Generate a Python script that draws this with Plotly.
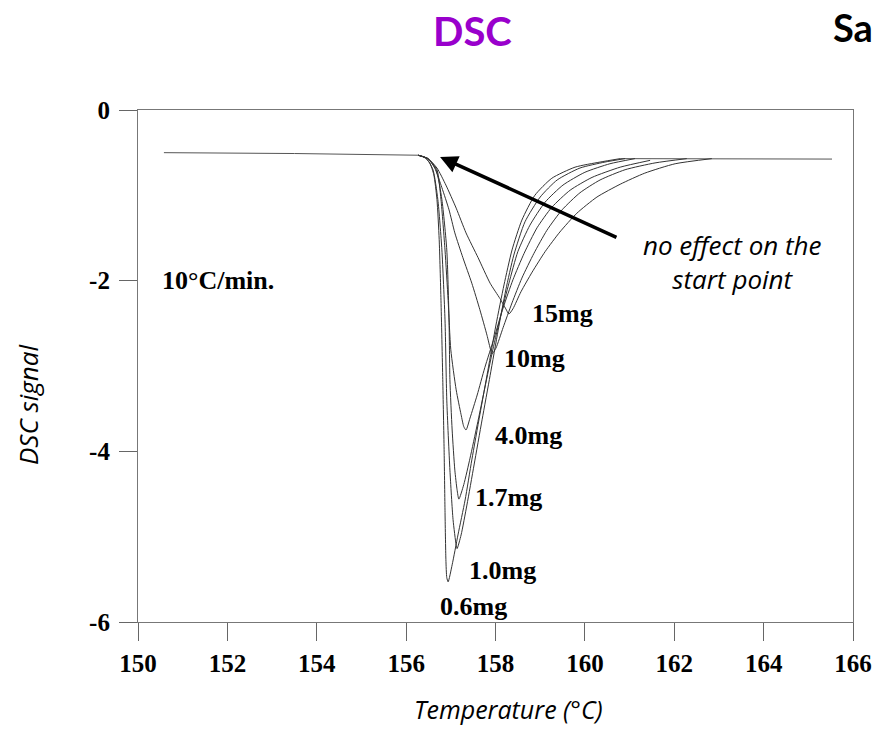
import plotly.graph_objects as go

# ---------------- data (temperature in °C, DSC signal) ----------------
base_left_T = [150.58, 153.5, 156.27]
base_left_y = [-0.50, -0.51, -0.53]
base_right_T = [160.79, 163.0, 165.53]
base_right_y = [-0.57, -0.57, -0.575]

T_06 = [156.27, 156.42, 156.53, 156.62, 156.69, 156.74, 156.78, 156.82, 156.85, 156.87, 156.89, 156.91, 156.94,
        157.03, 157.16, 157.32, 157.47, 157.65, 157.83, 158.01, 158.19, 158.37, 158.59, 158.88, 159.26, 159.78, 160.34, 160.79]
y_06 = [-0.53, -0.56, -0.62, -0.76, -1.05, -1.52, -2.23, -3.16, -3.98, -4.69, -5.27, -5.48, -5.53,
        -5.33, -4.98, -4.57, -4.10, -3.57, -3.05, -2.52, -2.05, -1.64, -1.29, -1.00, -0.80, -0.67, -0.61, -0.57]

T_10 = [156.27, 156.44, 156.60, 156.71, 156.80, 156.87, 156.91, 156.98, 157.05, 157.12, 157.14,
        157.23, 157.36, 157.52, 157.70, 157.88, 158.06, 158.23, 158.41, 158.66, 159.00, 159.38, 159.89, 160.45, 160.90]
y_10 = [-0.53, -0.56, -0.70, -1.05, -1.64, -2.46, -3.40, -4.22, -4.80, -5.10, -5.14,
        -4.98, -4.63, -4.16, -3.63, -3.11, -2.58, -2.11, -1.70, -1.31, -1.02, -0.82, -0.68, -0.61, -0.57]

T_17 = [156.27, 156.49, 156.67, 156.80, 156.91, 156.96, 156.98, 157.03, 157.09, 157.14, 157.18,
        157.29, 157.43, 157.59, 157.76, 157.94, 158.12, 158.30, 158.50, 158.77, 159.11, 159.51, 160.00, 160.56, 161.12]
y_17 = [-0.53, -0.57, -0.70, -1.05, -1.64, -2.46, -3.16, -3.75, -4.22, -4.45, -4.56,
        -4.39, -4.08, -3.69, -3.26, -2.81, -2.40, -2.03, -1.66, -1.35, -1.08, -0.88, -0.73, -0.63, -0.57]

T_40 = [156.27, 156.49, 156.69, 156.78, 156.87, 156.94, 157.00, 157.12, 157.23, 157.29, 157.34,
        157.43, 157.59, 157.76, 157.97, 158.17, 158.39, 158.64, 158.93, 159.26, 159.67, 160.16, 160.79, 161.46]
y_40 = [-0.53, -0.57, -0.70, -1.05, -1.64, -2.23, -2.81, -3.28, -3.57, -3.71, -3.75,
        -3.61, -3.34, -3.02, -2.67, -2.32, -1.99, -1.68, -1.38, -1.14, -0.94, -0.79, -0.67, -0.59]

T_100 = [156.27, 156.49, 156.64, 156.80, 156.96, 157.09, 157.27, 157.47, 157.65, 157.81, 157.88, 157.92,
         158.01, 158.17, 158.37, 158.59, 158.86, 159.15, 159.49, 159.89, 160.34, 160.90, 161.57, 162.28]
y_100 = [-0.53, -0.57, -0.68, -0.91, -1.17, -1.44, -1.73, -2.03, -2.34, -2.64, -2.79, -2.86,
         -2.79, -2.55, -2.26, -1.97, -1.68, -1.41, -1.17, -0.97, -0.82, -0.70, -0.62, -0.57]

T_150 = [156.27, 156.49, 156.69, 156.89, 157.12, 157.34, 157.61, 157.88, 158.10, 158.23, 158.30,
         158.39, 158.57, 158.82, 159.11, 159.44, 159.82, 160.27, 160.79, 161.34, 162.02, 162.84]
y_150 = [-0.53, -0.57, -0.68, -0.88, -1.15, -1.44, -1.73, -2.03, -2.21, -2.33, -2.39,
         -2.33, -2.13, -1.90, -1.66, -1.43, -1.21, -1.02, -0.87, -0.74, -0.63, -0.57]

series_names = ["0.6mg", "1.0mg", "1.7mg", "4.0mg", "10mg", "15mg"]
series_T = [T_06, T_10, T_17, T_40, T_100, T_150]
series_y = [y_06, y_10, y_17, y_40, y_100, y_150]
# label positions (T, signal)
label_T = [157.50, 158.15, 158.28, 158.73, 158.88, 159.51]
label_y = [-5.82, -5.40, -4.54, -3.81, -2.91, -2.38]

x_tickvals = [150, 152, 154, 156, 158, 160, 162, 164, 166]
y_tickvals = [0, -2, -4, -6]
y_ticktext = ["0", "-2", "-4", "-6"]

# ---------------- figure ----------------
SERIF = "Liberation Serif"
SANS = "Open Sans"
line_col = "#333333"

fig = go.Figure()
fig.add_trace(go.Scatter(x=base_left_T, y=base_left_y, mode="lines",
                         line=dict(color="#555555", width=1), hoverinfo="skip"))
fig.add_trace(go.Scatter(x=base_right_T, y=base_right_y, mode="lines",
                         line=dict(color="#555555", width=1), hoverinfo="skip"))
for name, T, y in zip(series_names, series_T, series_y):
    fig.add_trace(go.Scatter(x=T, y=y, mode="lines", name=name,
                             line=dict(color=line_col, width=1, shape="spline", smoothing=0.6)))

annotations = []
for name, lt, ly in zip(series_names, label_T, label_y):
    annotations.append(dict(x=lt, y=ly, xref="x", yref="y", text=name, showarrow=False,
                            font=dict(family=SERIF, size=26, color="black", weight="bold"),
                            xanchor="center", yanchor="middle"))
annotations.append(dict(x=151.79, y=-2.0, xref="x", yref="y", text="10°C/min.", showarrow=False,
                        font=dict(family=SERIF, size=26, color="black", weight="bold"),
                        xanchor="center", yanchor="middle"))
# arrow
annotations.append(dict(x=156.76, y=-0.55, ax=160.74, ay=-1.50, xref="x", yref="y", axref="x", ayref="y",
                        text="", showarrow=True, arrowhead=2, arrowsize=1.0, arrowwidth=3.5,
                        arrowcolor="black"))
annotations.append(dict(x=0.831, y=0.703, xref="paper", yref="paper",
                        text="<i>no effect on the</i><br><i>start point</i>", showarrow=False,
                        font=dict(family=SANS, size=26, color="black"), align="center",
                        xanchor="center", yanchor="middle", borderpad=0))
annotations.append(dict(x=0.4685, y=1.154, xref="paper", yref="paper", text="<b>DSC</b>", showarrow=False,
                        font=dict(family="Lato", size=40, color="#9900CC"), xanchor="center", yanchor="middle"))
annotations.append(dict(x=0.9706, y=1.162, xref="paper", yref="paper", text="<b>Sa</b>",
                        showarrow=False, font=dict(family="Lato", size=38, color="black"),
                        xanchor="left", yanchor="middle", borderpad=0))
annotations.append(dict(x=0.5175, y=-0.2055, xref="paper", yref="paper", text="<i>Temperature (°C)</i>",
                        showarrow=False, font=dict(family=SANS, size=25, color="black"),
                        xanchor="center", yanchor="bottom", borderpad=0))
annotations.append(dict(x=-0.1538, y=0.4238, xref="paper", yref="paper", text="<i>DSC signal</i>",
                        showarrow=False, textangle=-90, font=dict(family=SANS, size=26, color="black"),
                        xanchor="center", yanchor="middle", borderpad=0))

fig.update_layout(
    width=872, height=729,
    margin=dict(l=138, r=19, t=110, b=107, autoexpand=False),
    paper_bgcolor="white", plot_bgcolor="white",
    showlegend=False,
    annotations=annotations,
    xaxis=dict(range=[150, 166], tickvals=x_tickvals, showgrid=False, zeroline=False,
               showline=True, mirror=True, linecolor="#777777", linewidth=1.2,
               ticks="outside", ticklen=18, tickcolor="#666666", tickwidth=1, automargin=False,
               tickfont=dict(family=SERIF, size=25, color="black", weight="bold"),
               ticklabelstandoff=1),
    yaxis=dict(range=[-6, 0], tickvals=y_tickvals, ticktext=y_ticktext, showgrid=False, zeroline=False,
               showline=True, mirror=True, linecolor="#777777", linewidth=1.2,
               ticks="outside", ticklen=18, tickcolor="#666666", tickwidth=1, automargin=False,
               tickfont=dict(family=SERIF, size=25, color="black", weight="bold"),
               ticklabelstandoff=4),
)

fig.write_html("out.html")
